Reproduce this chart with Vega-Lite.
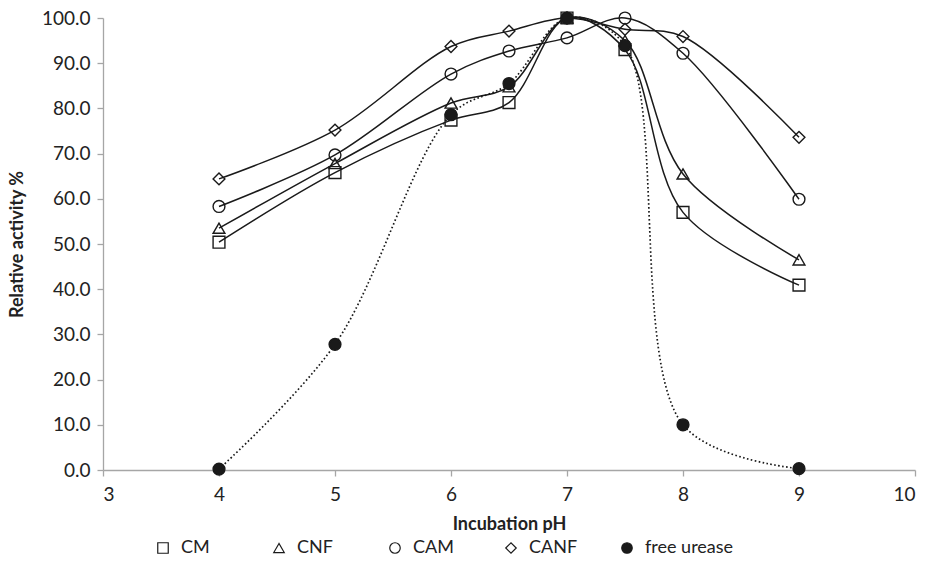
{
  "$schema": "https://vega.github.io/schema/vega-lite/v6.json",
  "autosize": {"type": "none"},
  "padding": {"left": 103, "top": 18, "right": 20, "bottom": 115},
  "width": 812,
  "height": 452,
  "background": "white",
  "config": {
    "font": "Lato",
    "view": {"stroke": null},
    "axis": {
      "grid": false,
      "domainColor": "#a6a6a6",
      "domainWidth": 1.3,
      "tickColor": "#a6a6a6",
      "tickWidth": 1.3,
      "tickSize": 6,
      "labelFont": "Lato",
      "labelFontSize": 19,
      "labelColor": "#222222",
      "titleFont": "Lato",
      "titleFontSize": 18,
      "titleFontWeight": "bold",
      "titleColor": "#222222"
    },
    "legend": {
      "labelFont": "Lato",
      "labelFontSize": 18,
      "labelColor": "#222222"
    }
  },
  "data": {
    "values": [
      {"pH": 4, "value": 50.4, "series": "CM"},
      {"pH": 5, "value": 65.8, "series": "CM"},
      {"pH": 6, "value": 77.4, "series": "CM"},
      {"pH": 6.5, "value": 81.3, "series": "CM"},
      {"pH": 7, "value": 100, "series": "CM"},
      {"pH": 7.5, "value": 93.0, "series": "CM"},
      {"pH": 8, "value": 57.0, "series": "CM"},
      {"pH": 9, "value": 40.9, "series": "CM"},
      {"pH": 4, "value": 53.5, "series": "CNF"},
      {"pH": 5, "value": 67.8, "series": "CNF"},
      {"pH": 6, "value": 81.2, "series": "CNF"},
      {"pH": 6.5, "value": 84.8, "series": "CNF"},
      {"pH": 7, "value": 100, "series": "CNF"},
      {"pH": 7.5, "value": 95.0, "series": "CNF"},
      {"pH": 8, "value": 65.5, "series": "CNF"},
      {"pH": 9, "value": 46.5, "series": "CNF"},
      {"pH": 4, "value": 58.3, "series": "CAM"},
      {"pH": 5, "value": 69.7, "series": "CAM"},
      {"pH": 6, "value": 87.6, "series": "CAM"},
      {"pH": 6.5, "value": 92.7, "series": "CAM"},
      {"pH": 7, "value": 95.6, "series": "CAM"},
      {"pH": 7.5, "value": 100, "series": "CAM"},
      {"pH": 8, "value": 92.2, "series": "CAM"},
      {"pH": 9, "value": 59.9, "series": "CAM"},
      {"pH": 4, "value": 64.4, "series": "CANF"},
      {"pH": 5, "value": 75.2, "series": "CANF"},
      {"pH": 6, "value": 93.7, "series": "CANF"},
      {"pH": 6.5, "value": 97.1, "series": "CANF"},
      {"pH": 7, "value": 100, "series": "CANF"},
      {"pH": 7.5, "value": 97.5, "series": "CANF"},
      {"pH": 8, "value": 95.9, "series": "CANF"},
      {"pH": 9, "value": 73.6, "series": "CANF"},
      {"pH": 4, "value": 0.2, "series": "free urease"},
      {"pH": 5, "value": 27.8, "series": "free urease"},
      {"pH": 6, "value": 78.6, "series": "free urease"},
      {"pH": 6.5, "value": 85.5, "series": "free urease"},
      {"pH": 7, "value": 100, "series": "free urease"},
      {"pH": 7.5, "value": 93.9, "series": "free urease"},
      {"pH": 8, "value": 10.0, "series": "free urease"},
      {"pH": 9, "value": 0.3, "series": "free urease"}
    ]
  },
  "encoding": {
    "x": {
      "field": "pH", "type": "quantitative",
      "scale": {"domain": [3, 10], "nice": false, "zero": false},
      "axis": {"title": "Incubation pH", "values": [3, 4, 5, 6, 7, 8, 9, 10], "labelPadding": 9, "titlePadding": 11}
    },
    "y": {
      "field": "value", "type": "quantitative",
      "scale": {"domain": [0, 100], "nice": false},
      "axis": {"title": "Relative activity %", "values": [0, 10, 20, 30, 40, 50, 60, 70, 80, 90, 100], "format": ".1f", "labelPadding": 7, "titlePadding": 15}
    }
  },
  "layer": [
    {
      "transform": [{"filter": "datum.series !== 'free urease'"}],
      "mark": {"type": "line", "interpolate": "catmull-rom", "stroke": "#1a1a1a", "strokeWidth": 1.5},
      "encoding": {
        "detail": {"field": "series"}
      }
    },
    {
      "transform": [{"filter": "datum.series === 'free urease'"}],
      "mark": {"type": "line", "interpolate": "catmull-rom", "stroke": "#1a1a1a", "strokeWidth": 1.7, "strokeDash": [1.6, 2.4]},
      "encoding": {}
    },
    {
      "mark": {"type": "point", "filled": false, "strokeWidth": 1.4, "size": 140, "opacity": 1},
      "encoding": {
        "shape": {
          "field": "series", "type": "nominal",
          "scale": {"domain": ["CM", "CNF", "CAM", "CANF", "free urease"], "range": ["square", "triangle-up", "circle", "diamond", "circle"]},
          "legend": {
            "title": null,
            "orient": "none",
            "legendX": 51,
            "legendY": 521,
            "direction": "horizontal",
            "columns": 5,
            "gridAlign": "all",
            "columnPadding": 0,
            "symbolSize": 110,
            "symbolStrokeWidth": 1.2,
            "labelOffset": 9
          }
        },
        "stroke": {
          "field": "series", "type": "nominal",
          "scale": {"domain": ["CM", "CNF", "CAM", "CANF", "free urease"], "range": ["#1a1a1a", "#1a1a1a", "#1a1a1a", "#1a1a1a", "#1a1a1a"]}
        },
        "fill": {
          "field": "series", "type": "nominal",
          "scale": {"domain": ["CM", "CNF", "CAM", "CANF", "free urease"], "range": ["transparent", "transparent", "transparent", "transparent", "#1a1a1a"]}
        }
      }
    }
  ]
}
